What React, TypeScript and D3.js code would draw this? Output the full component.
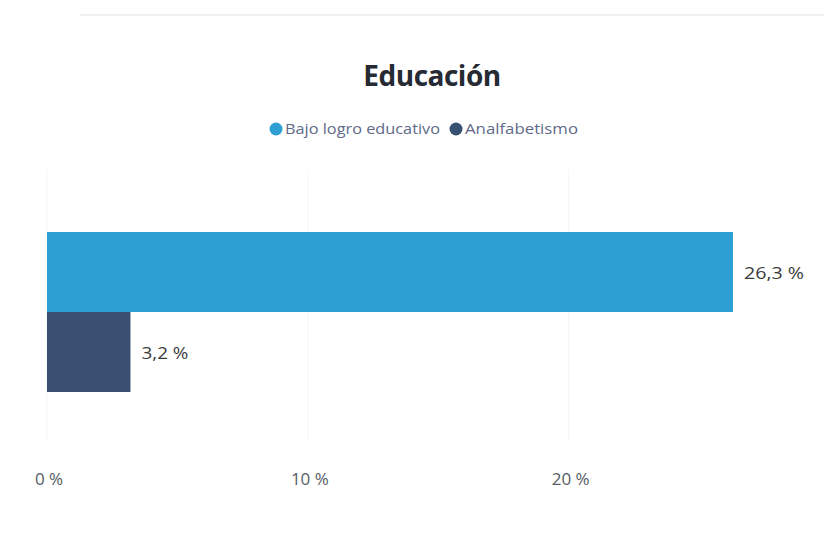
import React from "react";
import * as d3 from "d3";

const categories = ["Bajo logro educativo", "Analfabetismo"];
const values = [26.3, 3.2];
const valueLabels = ["26,3 %", "3,2 %"];
const colors = ["#2e9fd2", "#3a5073"];
const ticks = [0, 10, 20];
const tickLabels = ["0 %", "10 %", "20 %"];

export default function App() {
  const W = 824, H = 533;
  const x = d3.scaleLinear().domain([0, 26.3]).range([47, 733]);
  const y = d3.scaleBand().domain(categories).range([232, 392]).padding(0);
  const legendWidths = [155, 113];
  const legendX = [276, 456];
  return (
    <svg width={W} height={H} style={{ position: "absolute", left: 0, top: 0, background: "#fff" }}
      fontFamily="'Open Sans', 'Noto Sans', sans-serif">
      <rect x={0} y={0} width={W} height={H} fill="#fff" />
      <line x1={80} x2={824} y1={15} y2={15} stroke="#f0f0f0" strokeWidth={2} />
      <text x={432} y={86} textAnchor="middle" fontSize={28} fontWeight={700} fill="#252a33"
        fontFamily="'Open Sans', sans-serif" letterSpacing={-0.5}>Educación</text>
      {/* legend */}
      <g fontSize={15} fill="#606a88">
        {categories.map((c, i) => (
          <g key={c}>
            <circle cx={legendX[i]} cy={129} r={6.5} fill={colors[i]} />
            <text x={legendX[i] + 9} y={134} textLength={legendWidths[i]} lengthAdjust="spacingAndGlyphs">{c}</text>
          </g>
        ))}
      </g>
      {ticks.map((t) => (
        <line key={t} x1={x(t)} x2={x(t)} y1={170} y2={440} stroke="#f5f5f5" strokeWidth={1} />
      ))}
      {categories.map((c, i) => (
        <g key={c}>
          <rect x={x(0)} y={y(c)!} width={x(values[i]) - x(0)} height={y.bandwidth()} fill={colors[i]} />
          <text x={x(values[i]) + 11} y={y(c)! + y.bandwidth() / 2 + 7} fontSize={17} fill="#3a3a3a"
            textLength={i === 0 ? 60 : 47} lengthAdjust="spacingAndGlyphs">
            {valueLabels[i]}
          </text>
        </g>
      ))}
      <g fontSize={17} fill="#555c66">
        {ticks.map((t, i) => (
          <text key={t} x={x(t) + (i === 0 ? 2 : 2)} y={485} textAnchor="middle">{tickLabels[i]}</text>
        ))}
      </g>
    </svg>
  );
}
